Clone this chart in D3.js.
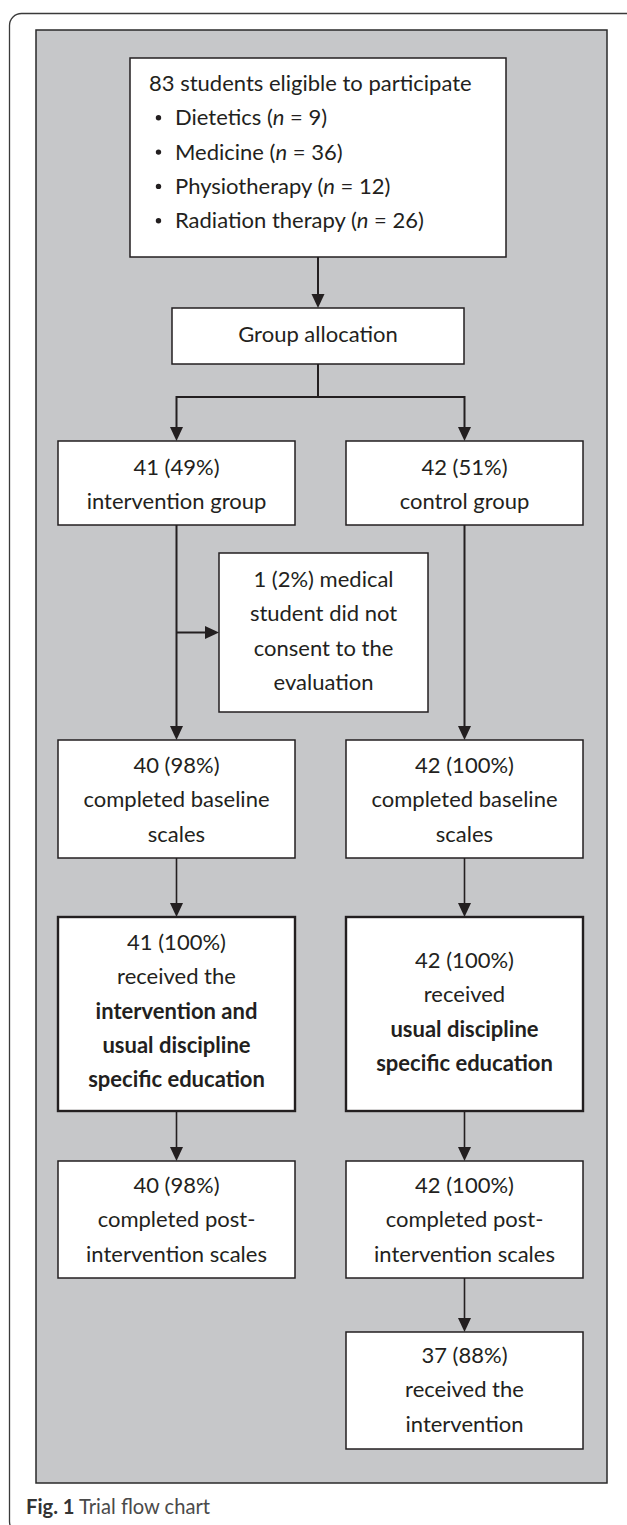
<!DOCTYPE html>
<html><head><meta charset="utf-8">
<script src="https://cdn.jsdelivr.net/npm/d3@7"></script>
<style>html,body{margin:0;padding:0;background:#fff;} svg{display:block}</style>
</head><body>
<svg id="chart" width="627" height="1525"></svg>
<script>
// ---------------- data ----------------
const eligibleTotal = 83;
const disciplines = ["Dietetics", "Medicine", "Physiotherapy", "Radiation therapy"];
const disciplineN = [9, 36, 12, 26];

// each line = list of [text, style] segments ("" regular, "b" bold, "i" italic)
const allocationLines   = [[["Group allocation", ""]]];
const interventionLines = [[["41 (49%)", ""]], [["intervention group", ""]]];
const controlLines      = [[["42 (51%)", ""]], [["control group", ""]]];
const excludedLines     = [[["1 (2%) medical", ""]], [["student did not", ""]], [["consent to the", ""]], [["evaluation", ""]]];
const baselineILines    = [[["40 (98%)", ""]], [["completed baseline", ""]], [["scales", ""]]];
const baselineCLines    = [[["42 (100%)", ""]], [["completed baseline", ""]], [["scales", ""]]];
const receivedILines    = [[["41 (100%)", ""]], [["received the", ""]], [["intervention and", "b"]], [["usual discipline", "b"]], [["specific education", "b"]]];
const receivedCLines    = [[["42 (100%)", ""]], [["received", ""]], [["usual discipline", "b"]], [["specific education", "b"]]];
const postILines        = [[["40 (98%)", ""]], [["completed post-", ""]], [["intervention scales", ""]]];
const postCLines        = [[["42 (100%)", ""]], [["completed post-", ""]], [["intervention scales", ""]]];
const crossoverLines    = [[["37 (88%)", ""]], [["received the", ""]], [["intervention", ""]]];

const flowEdges = [
  ["eligible", "allocation"],
  ["intervention", "baselineI"],
  ["control", "baselineC"],
  ["baselineI", "receivedI"],
  ["baselineC", "receivedC"],
  ["receivedI", "postI"],
  ["receivedC", "postC"],
  ["postC", "crossover"]
];
const splitFrom = "allocation";
const splitTo = ["intervention", "control"];
const sideFrom = "intervention";
const sideTo = "excluded";

const captionBold = "Fig. 1";
const captionText = "Trial flow chart";

// ---------------- layout / style ----------------
const layout = {
  eligible:     {x:130, y:58,   w:376, h:199, ty:91},
  allocation:   {x:172, y:308,  w:292, h:56,  ty:342},
  intervention: {x:58,  y:441,  w:237, h:84,  ty:475},
  control:      {x:346, y:441,  w:237, h:84,  ty:475},
  excluded:     {x:219, y:553,  w:209, h:159, ty:587},
  baselineI:    {x:58,  y:740,  w:237, h:118, ty:773},
  baselineC:    {x:346, y:740,  w:237, h:118, ty:773},
  receivedI:    {x:58,  y:917,  w:237, h:194, ty:950, bold:true},
  receivedC:    {x:346, y:917,  w:237, h:194, ty:968, bold:true},
  postI:        {x:58,  y:1161, w:237, h:117, ty:1193},
  postC:        {x:346, y:1161, w:237, h:117, ty:1193},
  crossover:    {x:346, y:1332, w:237, h:117, ty:1363}
};
const nodeLines = {
  allocation: allocationLines, intervention: interventionLines, control: controlLines,
  excluded: excludedLines, baselineI: baselineILines, baselineC: baselineCLines,
  receivedI: receivedILines, receivedC: receivedCLines, postI: postILines,
  postC: postCLines, crossover: crossoverLines
};
const LH = 34.3;
const INK = "#231f20";
const PANEL = "#c6c7c9";
const FONT = "Lato, 'Open Sans', sans-serif";
const SPLIT_Y = 397;
const AL = 14, AW = 13; // arrow length / width

const svg = d3.select("#chart");

function fitSize(str, target, weight) {
  const p = svg.append("text").attr("font-family", FONT).attr("font-size", 20)
    .attr("font-weight", weight || "normal").text(str);
  const w = p.node().getComputedTextLength();
  p.remove();
  return 20 * target / w;
}
// fit font size so that widths match the Calibri original
const FS = Math.min(22, fitSize("83 students eligible to participate", 336));
const CAPFS = Math.min(22, fitSize("Fig. 1 Trial flow chart", 184));

// outer rounded frame
svg.append("rect").attr("x", 9.5).attr("y", 13.5).attr("width", 700).attr("height", 1520)
  .attr("rx", 12).attr("fill", "none").attr("stroke", "#3a3a3a").attr("stroke-width", 1.3);

// grey panel
svg.append("rect").attr("x", 36).attr("y", 30).attr("width", 571).attr("height", 1453)
  .attr("fill", PANEL).attr("stroke", "#2a2a2a").attr("stroke-width", 1.5);

const cx = id => layout[id].x + layout[id].w / 2;
const cy = id => layout[id].y + layout[id].h / 2;
const line = d3.line();
const gLines = svg.append("g");

function arrowDown(x, y) {
  gLines.append("path").attr("d", `M${x - AW/2},${y - AL}L${x + AW/2},${y - AL}L${x},${y}Z`).attr("fill", INK);
}
function arrowRight(x, y) {
  gLines.append("path").attr("d", `M${x - AL},${y - AW/2}L${x - AL},${y + AW/2}L${x},${y}Z`).attr("fill", INK);
}
function conn(pts, sw) {
  gLines.append("path").attr("d", line(pts)).attr("fill", "none").attr("stroke", INK)
    .attr("stroke-width", sw);
}

flowEdges.forEach(([a, b], i) => {
  const x = cx(b);
  const y0 = layout[a].y + layout[a].h, y1 = layout[b].y;
  conn([[x, y0], [x, y1 - AL + 1]], i >= 3 ? 1.6 : 2);
  arrowDown(x, y1);
});

// split
conn([[cx(splitFrom), layout[splitFrom].y + layout[splitFrom].h], [cx(splitFrom), SPLIT_Y]], 2);
conn([[cx(splitTo[0]), SPLIT_Y], [cx(splitTo[1]), SPLIT_Y]], 2);
splitTo.forEach(id => {
  conn([[cx(id), SPLIT_Y - 1], [cx(id), layout[id].y - AL + 1]], 2);
  arrowDown(cx(id), layout[id].y);
});
// side branch
conn([[cx(sideFrom), cy(sideTo)], [layout[sideTo].x - AL + 1, cy(sideTo)]], 2);
arrowRight(layout[sideTo].x, cy(sideTo));

// boxes
Object.keys(layout).forEach(id => {
  const L = layout[id];
  svg.append("rect").attr("x", L.x).attr("y", L.y).attr("width", L.w).attr("height", L.h)
    .attr("fill", "#fff").attr("stroke", INK).attr("stroke-width", L.bold ? 2.4 : 1.5);
});

function addSegs(t, segs) {
  segs.forEach(([s, st]) => {
    const ts = t.append("tspan").text(s);
    if (st === "b") ts.attr("font-weight", "bold");
    if (st === "i") ts.attr("font-style", "italic");
  });
}

// eligible box (left-aligned with bullets)
{
  const L = layout.eligible;
  const tx = L.x + 19;
  const t0 = svg.append("text").attr("x", tx).attr("y", L.ty).attr("font-family", FONT)
    .attr("font-size", FS).attr("fill", INK);
  addSegs(t0, [[`${eligibleTotal} students eligible to participate`, ""]]);
  disciplines.forEach((d, i) => {
    const y = L.ty + (i + 1) * LH;
    svg.append("circle").attr("cx", tx + 9.5).attr("cy", y - 7.5).attr("r", 2.7).attr("fill", INK);
    const t = svg.append("text").attr("x", tx + 26).attr("y", y).attr("font-family", FONT)
      .attr("font-size", FS).attr("fill", INK);
    addSegs(t, [[d + " (", ""], ["n", "i"], [` = ${disciplineN[i]})`, ""]]);
  });
}

// other boxes centered
Object.keys(nodeLines).forEach(id => {
  const L = layout[id];
  nodeLines[id].forEach((segs, i) => {
    const t = svg.append("text").attr("x", cx(id)).attr("y", L.ty + i * LH)
      .attr("text-anchor", "middle").attr("font-family", FONT).attr("font-size", FS)
      .attr("fill", INK);
    addSegs(t, segs);
  });
});

// caption
const cap = svg.append("text").attr("x", 26).attr("y", 1514).attr("font-family", FONT)
  .attr("font-size", CAPFS).attr("fill", "#333");
cap.append("tspan").attr("font-weight", "bold").text(captionBold);
cap.append("tspan").attr("fill", "#4a4a4a").text(" " + captionText);
</script>
</body></html>
